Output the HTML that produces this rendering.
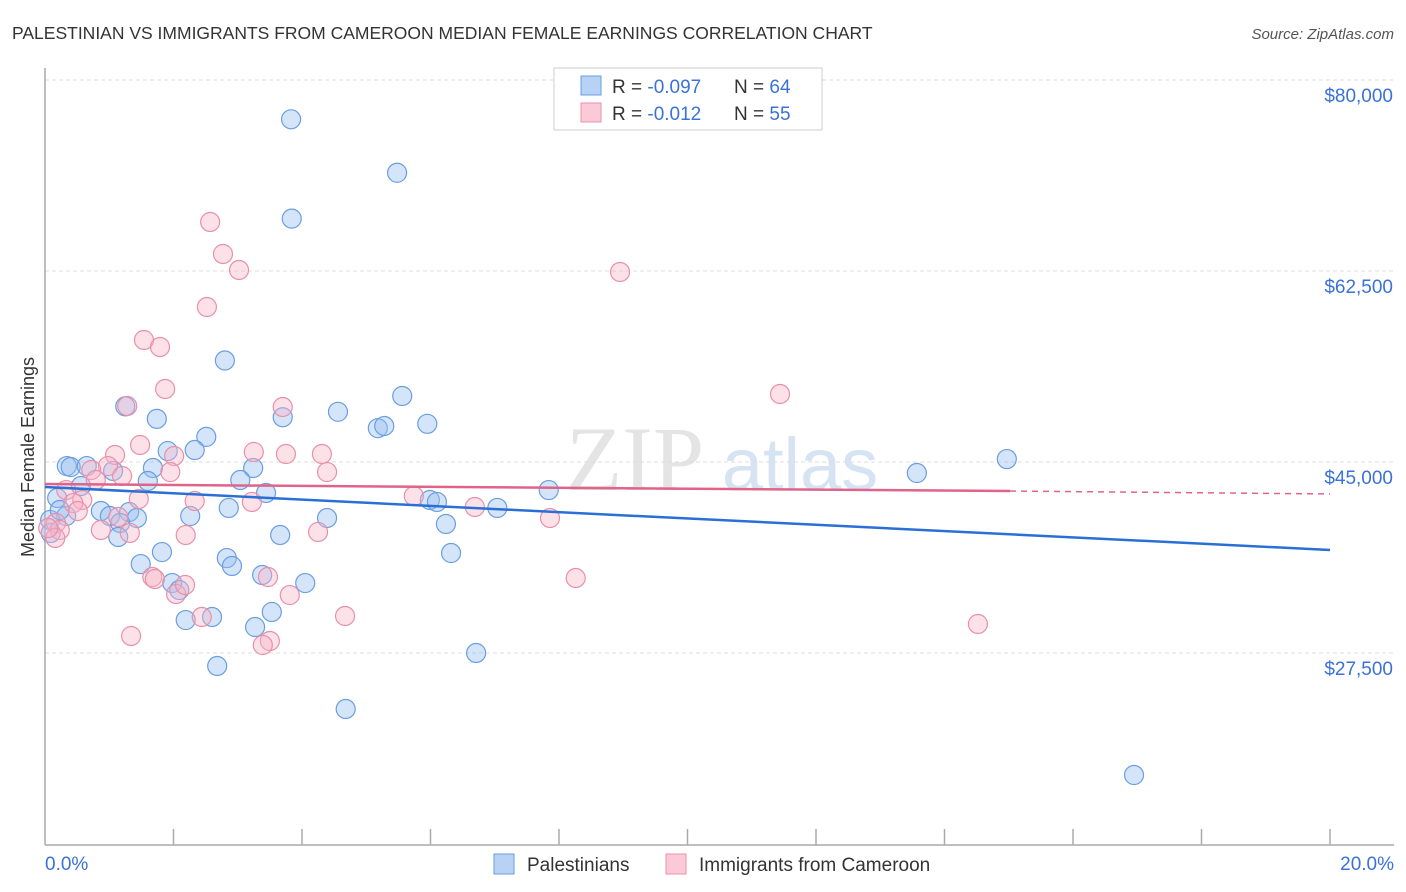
<!DOCTYPE html>
<html><head><meta charset="utf-8">
<style>
body{margin:0;background:#fff;font-family:"Liberation Sans",sans-serif;}
#wrap{position:relative;width:1406px;height:892px;overflow:hidden;}
svg{position:absolute;left:0;top:0;}
</style></head>
<body>
<div id="wrap">
<svg id="chart" width="1406" height="892">
  <text x="12" y="39" font-size="17.5" fill="#333">PALESTINIAN VS IMMIGRANTS FROM CAMEROON MEDIAN FEMALE EARNINGS CORRELATION CHART</text>
  <text x="1394" y="39" font-size="15" fill="#555" font-style="italic" text-anchor="end">Source: ZipAtlas.com</text>
  <g>
    <text x="635" y="490" font-size="92" fill="#e4e4e4" font-family="Liberation Serif, serif" text-anchor="middle">ZIP</text>
    <text x="800" y="490" font-size="74" fill="#d6e3f3" text-anchor="middle">atlas</text>
  </g>
  <g id="grid"></g>
  <g id="axes"></g>
  <g id="marks"></g>
  <text transform="translate(34,457) rotate(-90)" font-size="18" fill="#333" text-anchor="middle">Median Female Earnings</text>
  <g>
    <rect x="554" y="68" width="268" height="62" fill="#fff" stroke="#ccc"/>
    <rect x="581" y="76" width="20" height="19" fill="#b8d2f5" stroke="#6a9ee0"/>
    <rect x="581" y="103" width="20" height="19" fill="#fbcad8" stroke="#e890aa"/>
    <text x="612" y="93" font-size="19" fill="#333">R = <tspan fill="#3a72d8">-0.097</tspan></text>
    <text x="734" y="93" font-size="19" fill="#333">N = <tspan fill="#3a72d8">64</tspan></text>
    <text x="612" y="120" font-size="19" fill="#333">R = <tspan fill="#3a72d8"> -0.012</tspan></text>
    <text x="734" y="120" font-size="19" fill="#333">N = <tspan fill="#3a72d8">55</tspan></text>
  </g>
  <g>
    <rect x="494" y="854" width="20" height="20" fill="#b8d2f5" stroke="#6a9ee0"/>
    <text x="527" y="871" font-size="19" fill="#333">Palestinians</text>
    <rect x="666" y="854" width="20" height="20" fill="#fbcad8" stroke="#e890aa"/>
    <text x="699" y="871" font-size="19" fill="#333">Immigrants from Cameroon</text>
  </g>
</svg>
</div>
<script>
const yTicks = [27500, 45000, 62500, 80000];
const yTickLabels = ["$27,500", "$45,000", "$62,500", "$80,000"];
const xTickLabels = ["0.0%", "20.0%"];
const blueX = [3.83,5.48,3.84,2.80,5.56,1.25,4.56,3.70,1.74,5.18,5.28,5.95,2.51,1.91,2.33,0.34,0.40,0.65,1.68,3.24,1.06,13.57,14.97,1.60,3.04,0.56,3.44,7.84,0.19,5.99,6.10,2.86,7.04,0.87,1.31,2.26,0.33,0.08,1.01,1.43,4.39,1.17,6.24,0.09,1.14,3.66,1.82,6.32,2.83,1.49,2.91,3.38,1.98,2.09,4.05,3.53,2.19,2.60,3.27,2.68,6.71,4.68,16.95,0.23];
const blueY = [76400,71500,67300,54300,51050,50100,49600,49100,48950,48100,48300,48500,47300,46000,46100,44630,44540,44630,44450,44450,44180,43990,45270,43260,43350,42800,42160,42430,41700,41520,41340,40790,40790,40510,40420,40050,40050,39690,40050,39870,39870,39410,39320,38500,38130,38310,36750,36660,36200,35650,35470,34650,33910,33270,33910,31260,30520,30800,29880,26310,27500,22370,16320,40600];
const pinkX = [2.57,2.77,3.02,8.95,2.52,1.54,1.79,1.87,11.44,1.28,3.70,1.48,1.09,3.25,3.75,4.31,2.01,0.98,0.72,1.95,4.39,1.20,0.79,0.33,0.58,0.44,5.74,6.69,2.33,1.46,3.22,7.86,1.14,0.17,0.23,0.87,1.32,2.19,4.25,0.16,1.67,1.71,3.47,8.26,2.04,3.81,2.44,4.67,14.52,1.34,3.50,3.39,0.05,0.51,2.18];
const pinkY = [66990,64060,62590,62410,59200,56180,55540,51690,51230,50130,50040,46560,45640,45920,45730,45730,45550,44630,44270,44080,44080,43720,43350,42430,41520,41240,41880,40880,41430,41610,41340,39870,39960,39410,38770,38770,38500,38310,38590,38040,34460,34280,34460,34370,32910,32810,30800,30890,30160,29060,28600,28230,38950,40510,33730];
const blueTrendX = [0, 20];
const blueTrendY = [42710, 36940];
const pinkTrendX = [0, 15.02, 20];
const pinkTrendY = [42980, 42340, 42070];

const NS = "http://www.w3.org/2000/svg";
const X0 = 45, X1 = 1330;
function xs(v){ return X0 + (v/20)*(X1-X0); }
function ys(v){ return 462 - (v-45000)*191/17500; }
function mk(tag, attrs, parent){
  const e = document.createElementNS(NS, tag);
  for (const k in attrs) e.setAttribute(k, attrs[k]);
  parent.appendChild(e);
  return e;
}
const grid = document.getElementById('grid');
const axes = document.getElementById('axes');
const marks = document.getElementById('marks');

yTicks.forEach((t,i)=>{
  const y = ys(t) - 191;
  const gl = mk('line',{x1:X0,x2:1394,y1:ys(t)-0,y2:ys(t),stroke:'#ddd','stroke-dasharray':'4,3'},grid);
  
  
  const lb = mk('text',{x:1393,y:ys(t)+22,'font-size':19,fill:'#3a72d8','text-anchor':'end'},axes);
  lb.textContent = yTickLabels[i];
  
  
});
const topGrid = mk('line',{x1:X0,x2:1394,y1:80,y2:80,stroke:'#ddd','stroke-dasharray':'4,3'},grid);



const yax = mk('line',{x1:X0,x2:X0,y1:68,y2:845,stroke:'#aaa','stroke-width':1.5},axes);


const xax = mk('line',{x1:X0,x2:1394,y1:845,y2:845,stroke:'#aaa','stroke-width':1.5},axes);


for (let i=1;i<=10;i++){
  const tk = mk('line',{x1:xs(i*2),x2:xs(i*2),y1:829,y2:845,stroke:'#aaa','stroke-width':1.5},axes);
  
  
}
const xl0 = mk('text',{x:45,y:870,'font-size':19,fill:'#3a72d8'},axes);
xl0.textContent = xTickLabels[0];


const xl1 = mk('text',{x:1394,y:870,'font-size':19,fill:'#3a72d8','text-anchor':'end'},axes);
xl1.textContent = xTickLabels[1];



blueX.forEach((v,i)=>{
  const c = mk('circle',{cx:xs(v),cy:ys(blueY[i]),r:9.5,fill:'rgba(150,190,240,0.4)',stroke:'#6a9ee0','stroke-width':1.2},marks);
  
  
});
pinkX.forEach((v,i)=>{
  const c = mk('circle',{cx:xs(v),cy:ys(pinkY[i]),r:9.5,fill:'rgba(248,180,200,0.4)',stroke:'#e890aa','stroke-width':1.2},marks);
  
  
});
const bt = mk('line',{x1:xs(blueTrendX[0]),y1:ys(blueTrendY[0]),x2:xs(blueTrendX[1]),y2:ys(blueTrendY[1]),stroke:'#2a6fd6','stroke-width':2.5},marks);


const pt = mk('line',{x1:xs(pinkTrendX[0]),y1:ys(pinkTrendY[0]),x2:xs(pinkTrendX[1]),y2:ys(pinkTrendY[1]),stroke:'#e0648a','stroke-width':2.5},marks);


const pd = mk('line',{x1:xs(pinkTrendX[1]),y1:ys(pinkTrendY[1]),x2:xs(pinkTrendX[2]),y2:ys(pinkTrendY[2]),stroke:'#e0648a','stroke-width':1.5,'stroke-dasharray':'6,5'},marks);


</script>
</body></html>
